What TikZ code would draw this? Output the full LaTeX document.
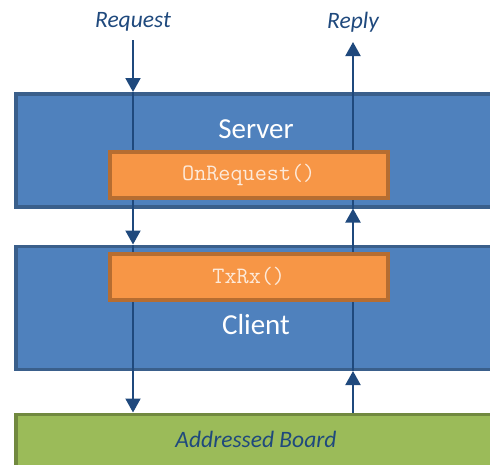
\documentclass[tikz,border=0pt]{standalone}
\usepackage{fontspec}
\setmainfont{Carlito}
\usetikzlibrary{arrows.meta}

\definecolor{layerblue}{HTML}{4F81BD}
\definecolor{layerblueline}{HTML}{3A5F8B}
\definecolor{funcorange}{HTML}{F79646}
\definecolor{funcorangeline}{HTML}{B66D31}
\definecolor{boardgreen}{HTML}{9BBB59}
\definecolor{boardgreenline}{HTML}{71893F}
\definecolor{flowblue}{HTML}{1F497D}
\definecolor{functext}{HTML}{FDEADA}

\begin{document}
\begin{tikzpicture}[x=1pt, y=-1pt]
  % -----------------------------
  % SETTINGS
  % -----------------------------
  \def\xreq{133}   % request line
  \def\xrep{353}   % reply line

  % -----------------------------
  % STYLES
  % -----------------------------
  \tikzset{
    layer/.style={draw=layerblueline, fill=layerblue, line width=3.5pt,
      anchor=north west, minimum width=490pt, inner sep=0pt},
    func/.style={draw=funcorangeline, fill=funcorange, line width=3.5pt,
      anchor=north west, minimum width=278pt, minimum height=46pt,
      inner sep=0pt, font=\ttfamily\fontsize{23.5}{26}\selectfont, text=functext},
    board/.style={draw=boardgreenline, fill=boardgreen, line width=3.5pt,
      anchor=north west, minimum width=490pt, minimum height=70pt, inner sep=0pt},
    laytext/.style={font=\fontsize{29}{34}\selectfont, text=white},
    flowtext/.style={font=\itshape\fontsize{23.5}{28}\selectfont, text=flowblue},
    flow/.style={draw=flowblue, line width=2pt},
    flowarr/.style={flow, -{Triangle[width=15pt,length=14pt]}},
  }

  \useasboundingbox (0,0) rectangle (490,464);
  \clip (0,0) rectangle (490,464);

  % -----------------------------
  % LAYERS
  % -----------------------------
  \node[layer, minimum height=113pt] (server) at (14,92) {};
  \node[layer, minimum height=123pt] (client) at (14,244.5) {};
  \node[board] (brd) at (14,412.5) {};

  \node[laytext] (servertxt) at (256,129) {Server};
  \node[laytext] (clienttxt) at (256,325) {Client};
  \node[flowtext] (brdtxt) at (256,439) {Addressed Board};

  % -----------------------------
  % REQUEST / REPLY FLOW
  % -----------------------------
  \node[flowtext] (req) at (\xreq,22) {Request};
  \node[flowtext] (rep) at (\xrep,22) {Reply};
  \coordinate (reqtop) at (\xreq,40);
  \coordinate (reptop) at (\xrep,42);

  % request goes down
  \draw[flowarr] (reqtop) -- (reqtop |- server.north);
  \draw[flow] (reqtop |- server.north) -- (reqtop |- server.south);
  \draw[flowarr] (reqtop |- server.south) -- (reqtop |- client.north);
  \draw[flow] (reqtop |- client.north) -- (reqtop |- client.south);
  \draw[flowarr] (reqtop |- client.south) -- (reqtop |- brd.north);

  % reply goes up
  \draw[flowarr] (reptop |- brd.north) -- (reptop |- client.south);
  \draw[flow] (reptop |- client.south) -- (reptop |- client.north);
  \draw[flowarr] (reptop |- client.north) -- (reptop |- server.south);
  \draw[flow] (reptop |- server.south) -- (reptop |- server.north);
  \draw[flowarr] (reptop |- server.north) -- (reptop);

  % -----------------------------
  % FUNCTIONS
  % -----------------------------
  \node[func] (onreq) at (108,150) {OnRequest()};
  \node[func] (txrx) at (108,252) {TxRx()};
\end{tikzpicture}
\end{document}
